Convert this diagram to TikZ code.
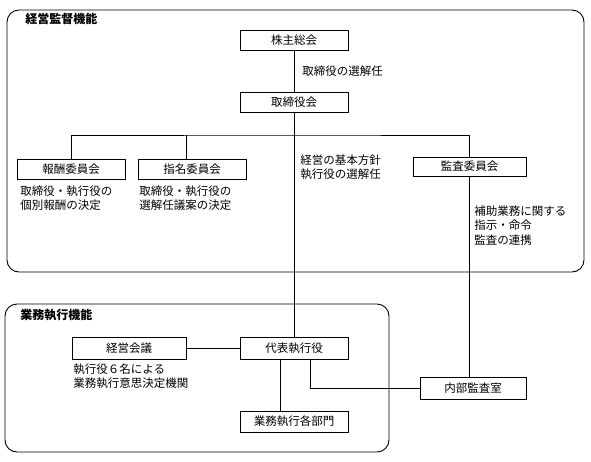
\documentclass[tikz,border=0pt]{standalone}
\usepackage{fontspec}
\setmainfont{Noto Sans CJK JP}
\usepackage{tikz}

\tikzset{
  box/.style={draw, fill=white, minimum width=108pt, minimum height=20pt, inner sep=0pt},
  note/.style={anchor=north west, align=left, inner sep=0pt},
  frame/.style={draw, rounded corners=12pt},
  title/.style={anchor=west, inner sep=0pt, font=\fontsize{12pt}{14pt}\selectfont\bfseries}
}

\begin{document}
\begin{tikzpicture}[x=1pt, y=-1pt, line width=0.9pt, font=\fontsize{11.5pt}{14.5pt}\selectfont]
		\useasboundingbox (0, 0) rectangle (591, 461);

		% frames
		\draw[frame] (7, 10) rectangle (584, 272);
		\draw[frame] (5, 304) rectangle (389, 452);
		\draw (25, 19)   node[title] (kantoku) {経営監督機能};
		\draw (20, 315)  node[title] (shikko)  {業務執行機能};

		% boxes
		\draw (294, 40)    node[box] (kabunushi)   {株主総会};
		\draw (294, 102)   node[box] (torishimari) {取締役会};
		\draw (71, 169)    node[box] (hoshu)       {報酬委員会};
		\draw (192, 169)   node[box] (shimei)      {指名委員会};
		\draw (469.5, 166.5) node[box, minimum width=113pt, minimum height=19pt] (kansa) {監査委員会};
		\draw (129, 348)   node[box, minimum width=114pt, minimum height=22pt] (keiei) {経営会議};
		\draw (294, 348)   node[box, minimum height=22pt] (daihyo) {代表執行役};
		\draw (294, 421.5) node[box, minimum height=21pt] (bumon)  {業務執行各部門};
		\draw (473, 388)   node[box, minimum width=106pt, minimum height=22pt] (naibu) {内部監査室};
		\coordinate (bus) at (294, 135);

		% connectors
		\draw (kabunushi) -- (torishimari);
		\draw (torishimari) -- (daihyo);
		\draw (hoshu.north) |- (bus) -| (kansa.north);
		\draw ([xshift=-6pt]shimei.north) -- ([xshift=-6pt]shimei.north |- bus);
		\draw (kansa.south) -- (kansa.south |- naibu.north);
		\draw (keiei) -- (daihyo);
		\draw ([xshift=-14pt]daihyo.south) -- ([xshift=-14pt]bumon.north);
		\draw ([xshift=16pt]daihyo.south) |- (naibu.west);

		% notes
		\draw (302, 65)  node[note] (senkainin) {取締役の選解任};
		\draw (20, 185)  node[note] (hoshunote) {取締役・執行役の\\個別報酬の決定};
		\draw (139, 185) node[note] (shimeinote) {取締役・執行役の\\選解任議案の決定};
		\draw (300, 154) node[note] (hoshin) {経営の基本方針\\執行役の選解任};
		\draw (474, 205) node[note] (hojo) {補助業務に関する\\指示・命令\\監査の連携};
		\draw (73, 363)  node[note] (keieinote) {執行役６名による\\業務執行意思決定機関};
	\end{tikzpicture}
\end{document}
